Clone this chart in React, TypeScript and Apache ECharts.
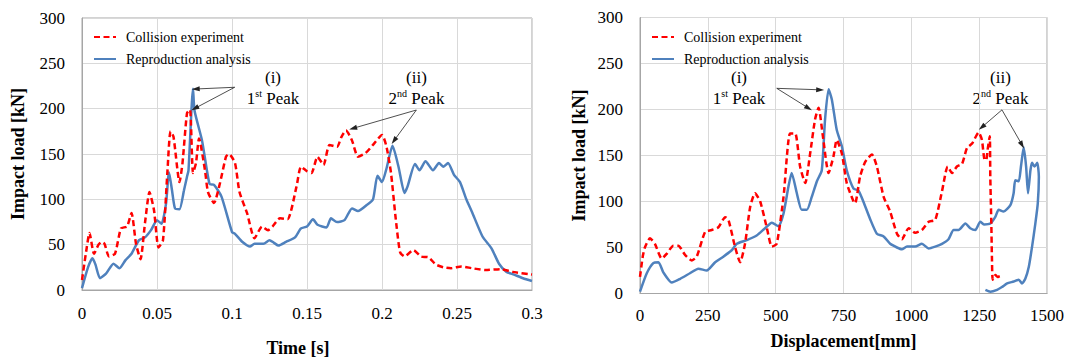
import React, { useEffect, useRef } from "react";
import * as echarts from "echarts";

const SERIF = "Liberation Serif";
const RED = "#ff0000";
const BLUE = "#4f81bd";

const EXP_NAME = "Collision experiment";
const ANA_NAME = "Reproduction analysis";

const timeTicks = { min: 0, max: 0.3, interval: 0.05 };
const dispTicks = { min: 0, max: 1500, interval: 250 };
const loadTicks = { min: 0, max: 300, interval: 50 };

// Left: load vs time
const timeExp: number[][] = [
  [0, 11], [0.003, 45], [0.005, 63], [0.008, 40], [0.011, 50], [0.013, 53], [0.015, 51], [0.018, 37],
  [0.022, 40], [0.026, 68], [0.03, 70], [0.033, 85], [0.036, 51], [0.039, 34], [0.042, 74], [0.045, 108],
  [0.048, 88], [0.051, 47], [0.054, 55], [0.057, 132], [0.059, 175], [0.061, 169], [0.065, 119], [0.067, 140],
  [0.07, 195], [0.072, 199], [0.074, 129], [0.076, 140], [0.078, 167], [0.082, 132], [0.084, 108], [0.088, 96],
  [0.092, 118], [0.096, 147], [0.098, 150], [0.102, 140], [0.105, 108], [0.11, 85], [0.115, 57], [0.12, 70],
  [0.124, 66], [0.127, 70], [0.132, 79], [0.137, 78], [0.143, 114], [0.146, 136], [0.15, 131], [0.153, 129],
  [0.157, 147], [0.161, 138], [0.165, 160], [0.17, 158], [0.173, 169], [0.176, 176], [0.18, 165], [0.184, 147],
  [0.189, 151], [0.194, 160], [0.2, 171], [0.203, 158], [0.206, 129], [0.209, 81], [0.212, 42], [0.215, 37],
  [0.221, 44], [0.226, 37], [0.231, 36], [0.236, 28], [0.241, 25], [0.246, 24], [0.253, 26], [0.26, 24],
  [0.269, 22], [0.279, 23], [0.287, 20], [0.3, 17],
];

const timeAna: number[][] = [
  [0, 2], [0.004, 25], [0.007, 35], [0.009, 28], [0.012, 13], [0.016, 18], [0.021, 29], [0.025, 24],
  [0.029, 33], [0.033, 40], [0.038, 55], [0.042, 58], [0.046, 66], [0.05, 77], [0.053, 73], [0.056, 95],
  [0.058, 130], [0.06, 110], [0.062, 90], [0.065, 89], [0.068, 110], [0.07, 125], [0.071, 132], [0.074, 222],
  [0.075, 198], [0.08, 165], [0.085, 117], [0.088, 116], [0.093, 103], [0.1, 64], [0.102, 62], [0.107, 53],
  [0.112, 48], [0.115, 51], [0.121, 51], [0.125, 55], [0.128, 52], [0.131, 49], [0.136, 53], [0.142, 58],
  [0.146, 68], [0.15, 70], [0.154, 78], [0.157, 72], [0.163, 69], [0.166, 79], [0.17, 75], [0.175, 77],
  [0.18, 90], [0.184, 87], [0.19, 94], [0.194, 100], [0.197, 126], [0.2, 119], [0.203, 134], [0.207, 159],
  [0.211, 136], [0.215, 107], [0.217, 114], [0.222, 139], [0.225, 132], [0.229, 142], [0.234, 132], [0.238, 140],
  [0.241, 136], [0.244, 140], [0.248, 127], [0.252, 119], [0.256, 101], [0.26, 86], [0.267, 59], [0.273, 46],
  [0.278, 29], [0.283, 20], [0.288, 17], [0.294, 13], [0.3, 10],
];

// Right: load vs displacement
const dispExp: number[][] = [
  [0, 18], [10, 40], [18, 50], [37, 60], [55, 54], [80, 38], [98, 43], [123, 52], [141, 52], [166, 42],
  [191, 36], [209, 40], [240, 67], [264, 69], [289, 72], [314, 83], [326, 80], [350, 51], [369, 34], [387, 54],
  [406, 94], [424, 109], [443, 100], [467, 72], [486, 51], [504, 54], [529, 105], [553, 174], [572, 174], [590, 138],
  [609, 120], [627, 152], [645, 189], [658, 202], [674, 171], [695, 131], [713, 149], [725, 167], [744, 152], [762, 120],
  [787, 100], [793, 98], [811, 127], [830, 143], [855, 151], [873, 138], [898, 105], [922, 89], [947, 65], [965, 59],
  [990, 71], [1014, 66], [1039, 69], [1064, 78], [1088, 80], [1113, 111], [1134, 138], [1150, 131], [1168, 138], [1187, 141],
  [1205, 158], [1224, 163], [1248, 175], [1260, 167], [1269, 146], [1276, 145], [1281, 156], [1289, 171], [1291, 127], [1295, 73],
  [1297, 40], [1300, 15], [1310, 20], [1318, 18], [1328, 19], [1334, 18],
];

const dispAna: number[][] = [
  [0, 2], [25, 22], [49, 33], [68, 34], [86, 23], [117, 12], [148, 16], [184, 22], [215, 27], [246, 25],
  [277, 34], [307, 40], [338, 47], [357, 54], [393, 58], [430, 63], [461, 71], [486, 77], [510, 73], [529, 87],
  [547, 116], [559, 131], [578, 109], [596, 91], [615, 91], [633, 105], [652, 122], [670, 134], [682, 189], [695, 222],
  [707, 211], [725, 178], [744, 160], [762, 134], [787, 114], [805, 112], [823, 100], [848, 81], [873, 65], [898, 62],
  [922, 54], [947, 50], [965, 48], [984, 51], [1014, 51], [1039, 54], [1064, 49], [1088, 51], [1113, 54], [1137, 59],
  [1156, 69], [1174, 69], [1199, 76], [1217, 71], [1236, 69], [1254, 78], [1269, 75], [1291, 76], [1309, 83], [1322, 91],
  [1340, 89], [1365, 96], [1377, 109], [1383, 123], [1396, 122], [1404, 138], [1414, 159], [1423, 138], [1430, 109], [1439, 134],
  [1445, 142], [1454, 138], [1464, 142], [1470, 127], [1466, 98], [1457, 76], [1445, 51], [1433, 29], [1420, 16], [1408, 11],
  [1396, 15], [1377, 13], [1353, 11], [1334, 7], [1316, 4], [1291, 2], [1273, 4],
];

// Annotation arrows (data coordinates): [from, to]
const timeArrows: number[][][] = [
  [[0.1018, 223.6], [0.0758, 221.7]],
  [[0.1018, 223.6], [0.0753, 200.4]],
  [[0.2229, 198.5], [0.1807, 178.3]],
  [[0.2229, 198.5], [0.208, 164.7]],
];
const dispArrows: number[][][] = [
  [[504, 223], [664, 221.4]],
  [[504, 223], [621, 201.5]],
  [[1334, 199.6], [1260, 180.8]],
  [[1334, 199.6], [1408, 161.5]],
];

function arrowLines(arrows: number[][][]) {
  return {
    silent: true,
    animation: false,
    symbol: ["none", "triangle"],
    symbolSize: [5, 8],
    label: { show: false },
    lineStyle: { color: "#222", width: 0.8, type: "solid" },
    emphasis: { disabled: true },
    data: arrows.map(([a, b]) => [{ coord: a }, { coord: b }]),
  };
}

function peakText(x: number, roman: string, n: string, sup: string) {
  return [
    {
      type: "text",
      x,
      y: 77,
      style: { text: roman, fontFamily: SERIF, fontSize: 17, fill: "#000", align: "center", verticalAlign: "middle" },
    },
    {
      type: "text",
      x,
      y: 98,
      style: {
        text: `{n|${n}}{s|${sup}}{n| Peak}`,
        align: "center",
        verticalAlign: "middle",
        rich: {
          n: { fontFamily: SERIF, fontSize: 17, fill: "#000", lineHeight: 20 },
          s: { fontFamily: SERIF, fontSize: 10, fill: "#000", verticalAlign: "top", lineHeight: 20 },
        },
      },
    },
  ];
}

const axisLabelStyle = { fontFamily: SERIF, fontSize: 17, color: "#000" };
const nameStyle = { fontFamily: SERIF, fontSize: 18, fontWeight: "bold", color: "#000" };

function xAxis(gridIndex: number, ticks: any, name: string, gap: number, margin: number, namePad: number[]) {
  return {
    type: "value",
    gridIndex,
    ...ticks,
    name,
    nameLocation: "middle",
    nameGap: gap,
    nameTextStyle: { ...nameStyle, padding: namePad },
    axisLine: { show: true, lineStyle: { color: "#a6a6a6", width: 1 } },
    axisTick: { show: false },
    axisLabel: { ...axisLabelStyle, margin, formatter: (v: number) => String(v) },
    splitLine: { show: true, lineStyle: { color: "#d9d9d9", width: 1 } },
  };
}

function yAxis(gridIndex: number, gap: number) {
  return {
    type: "value",
    gridIndex,
    ...loadTicks,
    name: "Impact load [kN]",
    nameLocation: "middle",
    nameGap: gap,
    nameTextStyle: nameStyle,
    axisLine: { show: true, lineStyle: { color: "#a6a6a6", width: 1 } },
    axisTick: { show: false },
    axisLabel: { ...axisLabelStyle, margin: 17 },
    splitLine: { show: true, lineStyle: { color: "#d9d9d9", width: 1 } },
  };
}

function legend(left: number) {
  return {
    left,
    top: 25,
    orient: "vertical",
    itemWidth: 22,
    itemHeight: 14,
    itemGap: 8,
    data: [EXP_NAME, ANA_NAME],
    itemStyle: { opacity: 0 },
    textStyle: { fontFamily: SERIF, fontSize: 14, color: "#000", padding: [0, 0, 0, 5] },
    selectedMode: false,
  };
}

export default function App() {
  const ref = useRef<HTMLDivElement>(null);
  useEffect(() => {
    if (!ref.current) return;
    const chart = echarts.init(ref.current, null, { renderer: "svg" });
    const expLine = { color: RED, width: 2.5, type: [6, 3.5] };
    const anaLine = { color: BLUE, width: 2.5, type: "solid" };
    chart.setOption({
      animation: false,
      backgroundColor: "#fff",
      grid: [
        { left: 82, top: 18, width: 450, height: 272, show: true, borderColor: "#a6a6a6", borderWidth: 1, outerBoundsMode: "none", containLabel: false },
        { left: 640, top: 17.5, width: 407, height: 276, show: true, borderColor: "#a6a6a6", borderWidth: 1, outerBoundsMode: "none", containLabel: false },
      ],
      xAxis: [
        xAxis(0, timeTicks, "Time [s]", 49, 15, [0, 18, 0, 0]),
        xAxis(1, dispTicks, "Displacement[mm]", 38, 13, [0, 0, 0, 0]),
      ],
      yAxis: [yAxis(0, 55), yAxis(1, 52)],
      legend: [legend(88), legend(646)],
      series: [
        {
          type: "line", name: EXP_NAME, xAxisIndex: 0, yAxisIndex: 0, data: timeExp,
          symbol: "none", smooth: 0.2, lineStyle: expLine, itemStyle: { color: RED }, z: 3,
          markLine: arrowLines(timeArrows),
        },
        {
          type: "line", name: ANA_NAME, xAxisIndex: 0, yAxisIndex: 0, data: timeAna,
          symbol: "none", smooth: 0.2, lineStyle: anaLine, itemStyle: { color: BLUE }, z: 2,
        },
        {
          type: "line", name: EXP_NAME, xAxisIndex: 1, yAxisIndex: 1, data: dispExp,
          symbol: "none", smooth: 0.2, lineStyle: expLine, itemStyle: { color: RED }, z: 3,
          markLine: arrowLines(dispArrows),
        },
        {
          type: "line", name: ANA_NAME, xAxisIndex: 1, yAxisIndex: 1, data: dispAna,
          symbol: "none", smooth: 0.2, lineStyle: anaLine, itemStyle: { color: BLUE }, z: 2,
        },
      ],
      graphic: [
        ...peakText(273, "(i)", "1", "st"),
        ...peakText(416.5, "(ii)", "2", "nd"),
        ...peakText(739, "(i)", "1", "st"),
        ...peakText(1000.5, "(ii)", "2", "nd"),
      ],
    });
    return () => chart.dispose();
  }, []);
  return <div ref={ref} style={{ position: "absolute", left: 0, top: 0, width: 1070, height: 358 }} />;
}
